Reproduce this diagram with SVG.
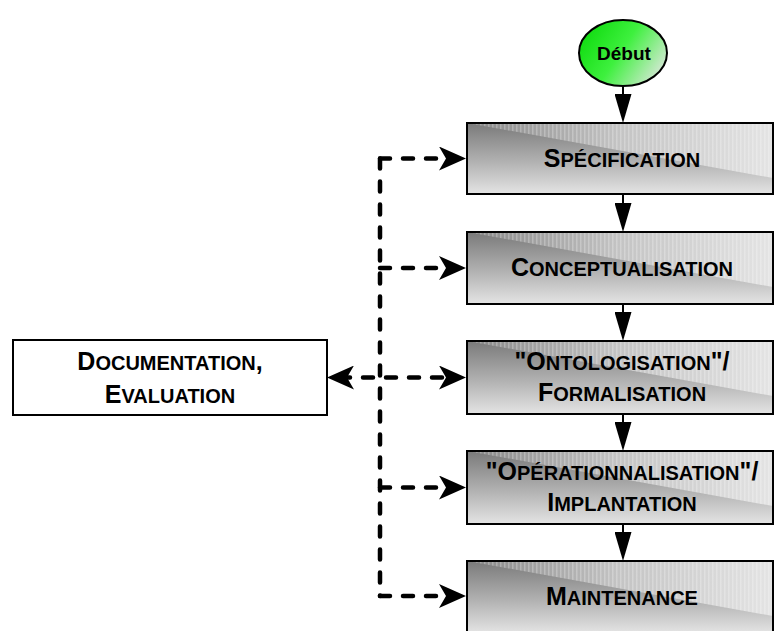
<svg xmlns="http://www.w3.org/2000/svg" width="774" height="631" viewBox="0 0 774 631">
  <style>
    .lbl { font-family: "Liberation Sans", Arial, sans-serif; font-weight: bold; font-size: 20px; fill: #000; text-anchor: middle; }
    .lbl .b { font-size: 25px; }
    .start { font-family: "Liberation Sans", Arial, sans-serif; font-weight: bold; font-size: 19px; fill: #000; text-anchor: middle; }
    .box { stroke: none; fill: url(#stepBase); }
    .sheen { fill: url(#stepSheen); }
    .stripes { fill: url(#stripes); }
    .frame { fill: none; stroke: #000; stroke-width: 2; }
    .flow { stroke: #000; stroke-width: 2; fill: none; marker-end: url(#solidHead); }
    .dash { stroke: #000; stroke-width: 4.5; fill: none; stroke-dasharray: 10 13; stroke-linecap: round; stroke-linejoin: round; }
    .dash.arrow { marker-end: url(#dashHead); }
    .dash.both { marker-start: url(#dashHead); marker-end: url(#dashHead); }
  </style>
  <defs>
    <linearGradient id="stepBase" x1="0" y1="0" x2="0" y2="1">
      <stop offset="0" stop-color="#7a7a7a"/>
      <stop offset="0.55" stop-color="#b2b2b2"/>
      <stop offset="1" stop-color="#e4e4e4"/>
    </linearGradient>
    <linearGradient id="stepSheen" x1="0" y1="0" x2="1" y2="0">
      <stop offset="0" stop-color="#868686"/>
      <stop offset="0.5" stop-color="#c4c4c4"/>
      <stop offset="1" stop-color="#e4e4e4"/>
    </linearGradient>
    <pattern id="stripes" width="4" height="10" patternUnits="userSpaceOnUse">
      <rect x="0" y="0" width="1.5" height="10" fill="#ffffff" fill-opacity="0.25"/>
    </pattern>
    <linearGradient id="startFill" x1="0" y1="0.3" x2="1" y2="0.8">
      <stop offset="0" stop-color="#10dc10"/>
      <stop offset="0.45" stop-color="#3ef03e"/>
      <stop offset="1" stop-color="#e2e8e2"/>
    </linearGradient>
    <marker id="solidHead" viewBox="0 -8.5 29 17" refX="12" refY="0" markerWidth="29" markerHeight="17" markerUnits="userSpaceOnUse" orient="auto">
      <path d="M29,0 L0,-8.5 L0,8.5 Z" fill="#000"/>
    </marker>
    <marker id="dashHead" viewBox="0 -12 27 24" refX="14" refY="0" markerWidth="27" markerHeight="24" markerUnits="userSpaceOnUse" orient="auto-start-reverse">
      <path d="M27,0 L0,-12 L7,0 L0,12 Z" fill="#000"/>
    </marker>
  </defs>

  <!-- connectors -->
  <g id="connectors">
    <path class="flow" d="M623,86 V106"/>
    <path class="flow" d="M623,194 V215"/>
    <path class="flow" d="M623,304 V324"/>
    <path class="flow" d="M623,414 V434"/>
    <path class="flow" d="M623,524 V544"/>
    <path class="dash" d="M380,158.5 V596"/>
    <path class="dash arrow" d="M380,158.5 H453"/>
    <path class="dash arrow" d="M380,268 H453"/>
    <path class="dash both" d="M340,377.5 H453"/>
    <path class="dash arrow" d="M380,487.5 H453"/>
    <path class="dash arrow" d="M380,596 H453"/>
  </g>

  <!-- start -->
  <g id="debut">
    <ellipse cx="623" cy="53" rx="44" ry="33" fill="url(#startFill)" stroke="#000" stroke-width="2"/>
    <text class="start" x="624" y="60">Début</text>
  </g>

  <!-- steps -->
  <g id="specification">
    <rect class="box" x="467" y="123" width="306" height="71"/>
    <polygon class="sheen" points="467,123 773,123 773,178"/>
    <polygon class="stripes" points="467,123 773,123 773,178"/>
    <rect class="frame" x="467" y="123" width="306" height="71"/>
    <text class="lbl" x="622" y="166.5"><tspan class="b">S</tspan>PÉCIFICATION</text>
  </g>

  <g id="conceptualisation">
    <rect class="box" x="467" y="232" width="306" height="72"/>
    <polygon class="sheen" points="467,232 773,232 773,287"/>
    <polygon class="stripes" points="467,232 773,232 773,287"/>
    <rect class="frame" x="467" y="232" width="306" height="72"/>
    <text class="lbl" x="622" y="276"><tspan class="b">C</tspan>ONCEPTUALISATION</text>
  </g>

  <g id="formalisation">
    <rect class="box" x="467" y="341" width="306" height="73"/>
    <polygon class="sheen" points="467,341 773,341 773,396"/>
    <polygon class="stripes" points="467,341 773,341 773,396"/>
    <rect class="frame" x="467" y="341" width="306" height="73"/>
    <text class="lbl" x="622" y="370"><tspan class="b">"O</tspan>NTOLOGISATION<tspan class="b">"/</tspan></text>
    <text class="lbl" x="622" y="401"><tspan class="b">F</tspan>ORMALISATION</text>
  </g>

  <g id="implantation">
    <rect class="box" x="467" y="451" width="306" height="73"/>
    <polygon class="sheen" points="467,451 773,451 773,506"/>
    <polygon class="stripes" points="467,451 773,451 773,506"/>
    <rect class="frame" x="467" y="451" width="306" height="73"/>
    <text class="lbl" x="622" y="480"><tspan class="b">"O</tspan>PÉRATIONNALISATION<tspan class="b">"/</tspan></text>
    <text class="lbl" x="622" y="511"><tspan class="b">I</tspan>MPLANTATION</text>
  </g>

  <g id="maintenance">
    <rect class="box" x="467" y="561" width="306" height="72"/>
    <polygon class="sheen" points="467,561 773,561 773,616"/>
    <polygon class="stripes" points="467,561 773,561 773,616"/>
    <rect class="frame" x="467" y="561" width="306" height="72"/>
    <text class="lbl" x="622" y="605"><tspan class="b">M</tspan>AINTENANCE</text>
  </g>

  <g id="documentation">
    <rect x="13" y="340" width="314" height="75" fill="#fff" stroke="#000" stroke-width="2"/>
    <text class="lbl" x="170" y="370"><tspan class="b">D</tspan>OCUMENTATION<tspan class="b">,</tspan></text>
    <text class="lbl" x="170" y="403"><tspan class="b">E</tspan>VALUATION</text>
  </g>
</svg>
